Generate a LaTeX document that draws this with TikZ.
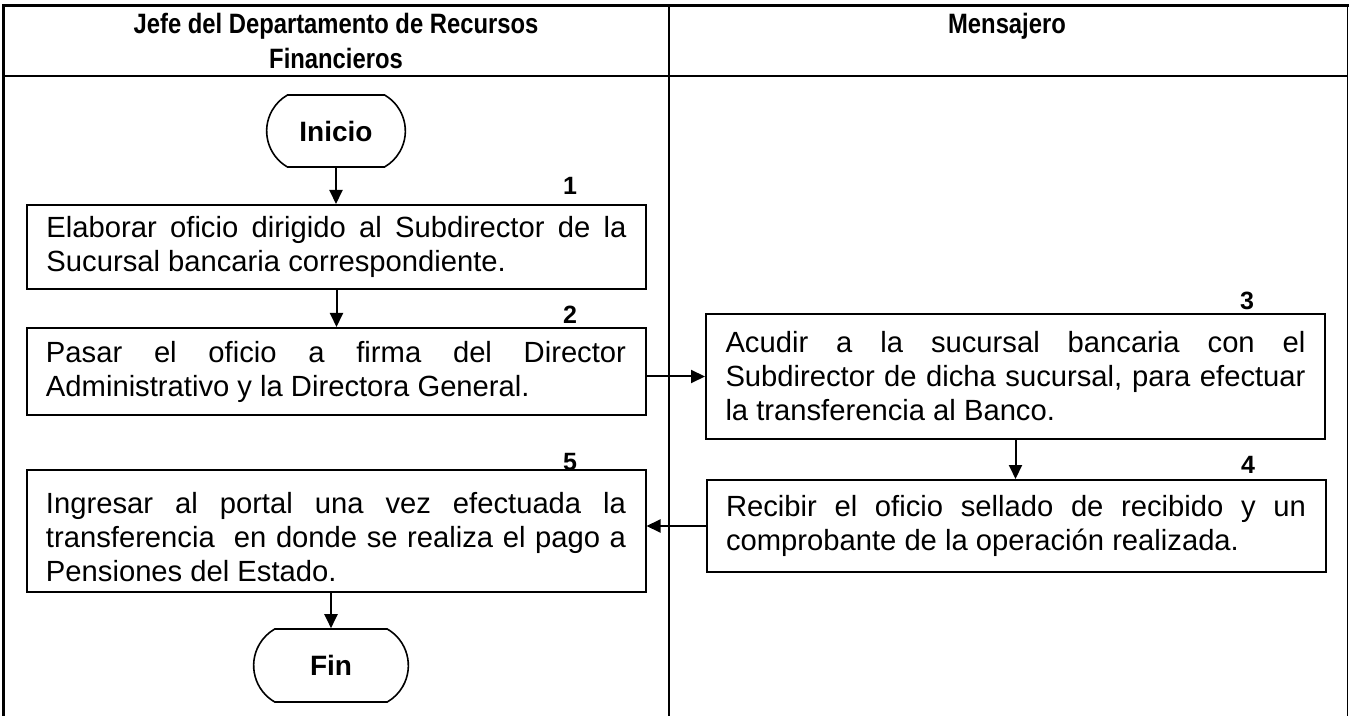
\documentclass[tikz,border=0pt]{standalone}
\usepackage{fontspec}
\setmainfont{Liberation Sans}
\newfontfamily\narrowsans{Liberation Sans}[FakeStretch=0.85]
\usepackage{tikz}
\usetikzlibrary{arrows.meta}
\usetikzlibrary{shapes.misc}

\tikzset{
  stepbox/.style={draw, line width=1pt, text width=290pt, inner xsep=9.75pt,
    align=justify, font=\fontsize{14.6pt}{17pt}\selectfont},
  terminal/.style={draw, line width=0.8pt, rounded rectangle, rounded rectangle arc length=120,
    font=\bfseries\fontsize{14pt}{14pt}\selectfont},
  numlbl/.style={font=\bfseries\fontsize{12.5pt}{12.5pt}\selectfont, inner sep=0pt},
  lanetitle/.style={font=\narrowsans\bfseries\fontsize{14pt}{17.5pt}\selectfont, align=center, anchor=north, inner sep=0pt},
  flow/.style={line width=1pt, -{Triangle[length=7pt,width=6.5pt]}}
}

\begin{document}
\begin{tikzpicture}[x=0.5pt,y=-0.5pt]
        \useasboundingbox (0,0) rectangle (1349,716);

        % lanes
        \draw[line width=1.5pt] (3.5,716) -- (3.5,5.5) -- (1349,5.5);
        \draw[line width=0.8pt] (1347.5,5) -- (1347.5,716);
        \draw[line width=1pt] (4,76) -- (1347,76);
        \draw[line width=1pt] (668.5,5) -- (668.5,716);
        \node[lanetitle] (jefe) at (336,13) {Jefe del Departamento de Recursos\\Financieros};
        \node[lanetitle] (mensajero) at (1007,13) {Mensajero};

        \node[terminal, minimum width=76pt, minimum height=36pt] (inicio) at (336,131) {Inicio};
        \node[stepbox, minimum height=42pt] (box1) at (336.5,247)
            {Elaborar oficio dirigido al Subdirector de la\linebreak Sucursal bancaria correspondiente.};
        \node[stepbox, minimum height=43.5pt] (box2) at (336,371.5)
            {Pasar el oficio a firma del Director\linebreak Administrativo y la Directora General.};
        \node[stepbox, minimum height=62.5pt] (box3) at (1015.5,376.5)
            {Acudir a la sucursal bancaria con el\linebreak Subdirector de dicha sucursal, para efectuar\linebreak la transferencia al Banco.};
        \node[stepbox, minimum height=46pt] (box4) at (1016,526)
            {Recibir el oficio sellado de recibido y un\linebreak comprobante de la operación realizada.};
        \node[stepbox, minimum height=61pt] (box5) at (336,531)
            {\rule{0pt}{16.7pt}Ingresar al portal una vez efectuada la\linebreak transferencia\ \ en donde se realiza el pago a\linebreak Pensiones del Estado.};
        \node[terminal, minimum width=84pt, minimum height=36.5pt] (fin) at (331,665.5) {Fin};

        % step numbers
        \node[numlbl] (n1) at (570,186) {1};
        \node[numlbl] (n2) at (570,315) {2};
        \node[numlbl] (n3) at (1247,301) {3};
        \node[numlbl] (n4) at (1248,465) {4};
        \node[numlbl] (n5) at (570,462) {5};

        \draw[flow] (inicio.south) -- (inicio.south |- box1.north);
        \draw[flow] (box1.south) -- (box1.south |- box2.north);
        \draw[flow] (box2.east |- box3.west) -- (box3.west);
        \draw[flow] (box3.south) -- (box3.south |- box4.north);
        \draw[flow] (box4.west) -- (box4.west -| box5.east);
        \draw[flow] (box5.south -| fin.north) -- (fin.north);
    \end{tikzpicture}
\end{document}
